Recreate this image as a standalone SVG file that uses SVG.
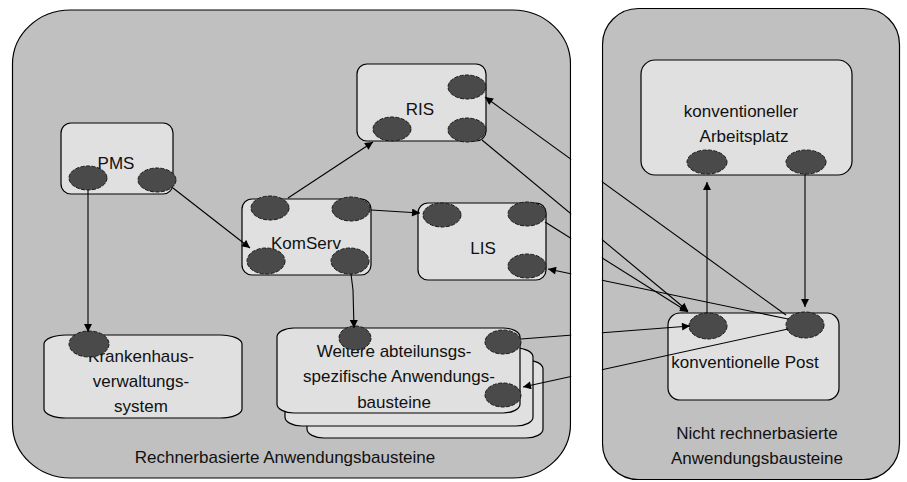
<svg xmlns="http://www.w3.org/2000/svg" width="907" height="482" viewBox="0 0 907 482">
  <style>
    .area { fill: #c0c0c0; stroke: #000; stroke-width: 1.2; }
    .node { fill: #e0e0e0; stroke: #000; stroke-width: 1.2; }
    .port { fill: #4a4a4a; stroke: #1a1a1a; stroke-width: 1; stroke-dasharray: 4 1.5; }
    .lbl { font-family: "Liberation Sans", Arial, sans-serif; font-size: 17px; fill: #111; text-anchor: middle; }
    .conn line, .conn path { stroke: #000; stroke-width: 1.1; fill: none; marker-end: url(#tip); }
  </style>
  <defs>
    <marker id="tip" viewBox="0 0 10 10" refX="10" refY="5" markerWidth="9" markerHeight="8" markerUnits="userSpaceOnUse" orient="auto">
      <path d="M0,0 L10,5 L0,10 Z" fill="#000"/>
    </marker>
  </defs>

  <rect width="907" height="482" fill="#fff"/>

  <!-- application areas -->
  <g id="area-rechnerbasiert">
    <rect class="area" x="12.5" y="10" width="558" height="468" rx="58" ry="54"/>
    <text class="lbl" x="285" y="463">Rechnerbasierte Anwendungsbausteine</text>
  </g>
  <g id="area-nicht-rechnerbasiert">
    <rect class="area" x="602.5" y="8.5" width="297" height="471" rx="36" ry="36"/>
    <text class="lbl" x="757" y="439">Nicht rechnerbasierte</text>
    <text class="lbl" x="757" y="464">Anwendungsbausteine</text>
  </g>

  <!-- components -->
  <g id="pms">
    <rect class="node" x="61" y="123" width="112" height="71" rx="10"/>
    <text class="lbl" x="116" y="169">PMS</text>
    <ellipse class="port" cx="88" cy="178" rx="19" ry="12"/>
    <ellipse class="port" cx="157" cy="180" rx="19" ry="12"/>
  </g>

  <g id="komserv">
    <rect class="node" x="242" y="199" width="129" height="76" rx="10"/>
    <text class="lbl" x="306" y="249">KomServ</text>
    <ellipse class="port" cx="270" cy="208" rx="19" ry="12"/>
    <ellipse class="port" cx="351" cy="209" rx="19" ry="12"/>
    <ellipse class="port" cx="266" cy="261" rx="19" ry="13"/>
    <ellipse class="port" cx="350" cy="261" rx="19" ry="13"/>
  </g>

  <g id="ris">
    <rect class="node" x="357" y="64" width="129" height="77" rx="10"/>
    <text class="lbl" x="420" y="115">RIS</text>
    <ellipse class="port" cx="467" cy="87" rx="19" ry="12"/>
    <ellipse class="port" cx="392" cy="129" rx="19" ry="12"/>
    <ellipse class="port" cx="467" cy="130" rx="19" ry="12"/>
  </g>

  <g id="lis">
    <rect class="node" x="418" y="203" width="128" height="77" rx="10"/>
    <text class="lbl" x="483" y="254">LIS</text>
    <ellipse class="port" cx="442" cy="215" rx="19" ry="12"/>
    <ellipse class="port" cx="527" cy="214" rx="19" ry="12"/>
    <ellipse class="port" cx="527" cy="266" rx="19" ry="12"/>
  </g>

  <g id="krankenhausverwaltungssystem">
    <rect class="node" x="44" y="335" width="198" height="83" rx="22" ry="9"/>
    <text class="lbl" x="141" y="362">Krankenhaus-</text>
    <text class="lbl" x="141" y="387">verwaltungs-</text>
    <text class="lbl" x="141" y="412">system</text>
    <ellipse class="port" cx="89" cy="344" rx="20" ry="13"/>
  </g>

  <g id="weitere-bausteine">
    <rect class="node" x="307" y="360" width="236" height="78" rx="17" ry="9"/>
    <rect class="node" x="285" y="348" width="248" height="78" rx="17" ry="9"/>
    <rect class="node" x="277" y="328" width="243" height="85" rx="17" ry="9"/>
    <text class="lbl" x="394" y="357">Weitere abteilunsgs-</text>
    <text class="lbl" x="399" y="382">spezifische Anwendungs-</text>
    <text class="lbl" x="394" y="408">bausteine</text>
    <ellipse class="port" cx="355" cy="338" rx="16" ry="12"/>
    <ellipse class="port" cx="503" cy="342" rx="18" ry="12"/>
    <ellipse class="port" cx="503" cy="395" rx="18" ry="12"/>
  </g>

  <g id="konventioneller-arbeitsplatz">
    <rect class="node" x="641" y="60" width="211" height="115" rx="14"/>
    <text class="lbl" x="741" y="117">konventioneller</text>
    <text class="lbl" x="744" y="142">Arbeitsplatz</text>
    <ellipse class="port" cx="707" cy="162" rx="20" ry="12"/>
    <ellipse class="port" cx="806" cy="162" rx="20" ry="12"/>
  </g>

  <g id="konventionelle-post">
    <rect class="node" x="668" y="313" width="171" height="87" rx="12"/>
    <text class="lbl" x="745" y="368">konventionelle Post</text>
    <ellipse class="port" cx="708" cy="326" rx="19" ry="13"/>
    <ellipse class="port" cx="805" cy="325" rx="19" ry="13"/>
  </g>

  <!-- message flows -->
  <g id="connectors" class="conn">
    <line x1="88" y1="190" x2="88" y2="332"/>
    <line x1="173" y1="188" x2="250" y2="248"/>
    <line x1="288" y1="198" x2="373" y2="142"/>
    <line x1="371" y1="210" x2="420" y2="213"/>
    <path d="M351,274 L353,290 L354,328"/>
    <line x1="482" y1="140" x2="688" y2="311"/>
    <line x1="545" y1="222" x2="688" y2="312"/>
    <line x1="788" y1="319" x2="548" y2="269"/>
    <line x1="786" y1="315" x2="485" y2="97"/>
    <line x1="521" y1="339" x2="690" y2="326"/>
    <line x1="788" y1="329" x2="523" y2="387"/>
    <line x1="707" y1="313" x2="707" y2="182"/>
    <line x1="805" y1="174" x2="805" y2="307"/>
  </g>

  <!-- blank channel between the two areas -->
  <rect x="571.2" y="40" width="30.6" height="420" fill="#fff"/>
</svg>
